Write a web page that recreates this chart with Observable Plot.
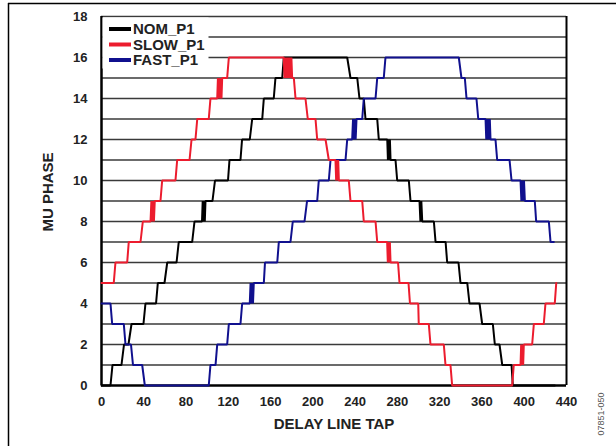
<!DOCTYPE html>
<html><head><meta charset="utf-8">
<script src="https://cdn.jsdelivr.net/npm/d3@7"></script>
<script src="https://cdn.jsdelivr.net/npm/@observablehq/plot@0.6"></script>
<style>body{margin:0;background:#fff;} svg{display:block;}</style>
</head><body><div id="chart"></div>
<script>
// Tick labels
const xTicks = [0, 40, 80, 120, 160, 200, 240, 280, 320, 360, 400, 440];
const yTicks = [0, 2, 4, 6, 8, 10, 12, 14, 16, 18];
const gridLevels = [1, 2, 3, 4, 5, 6, 7, 8, 9, 10, 11, 12, 13, 14, 15, 16, 17, 18];

// Series names
const seriesNames = ["NOM_P1", "SLOW_P1", "FAST_P1"];
const seriesColors = ["#000000", "#ec1c2e", "#10108e"];

// NOM_P1: phase level, tap where level starts, tap where level ends
const nomLevel = [0,1,2,3,4,5,6,7,8,9,10,11,12,13,14,15,16,15,14,13,12,11,10,9,8,7,6,5,4,3,2,1,0];
const nomFrom  = [0,10.4,21.3,28.4,41.6,53.3,62.2,73.1,88.0,98.4,107.4,121.1,133.0,142.6,153.6,164.6,172.5,235.6,244.1,249.8,262.4,273.5,279.8,292.4,303.5,316.1,327.1,339.7,348.2,360.2,372.2,379.2,389.2];
const nomTo    = [8.5,18.9,25.5,39.7,51.6,59.6,71.0,85.8,95.1,105.0,119.7,131.5,140.3,152.1,163.0,171.0,232.5,242.0,248.2,260.9,270.4,278.2,290.8,300.9,314.5,325.6,337.8,346.1,357.7,370.3,376.6,388.0,428.9];
const nomChatter = [8, 20, 23]; // transitions (after level index) that toggle back and forth

// SLOW_P1
const slowLevel = [5,6,7,8,9,10,11,12,13,14,15,16,15,14,13,12,11,10,9,8,7,6,5,4,3,2,1,0,1,2,3,4,5];
const slowFrom  = [0,13.2,25.8,39.1,50.4,57.4,71.6,85.2,90.6,103.1,114.2,120.5,180.4,183.6,195.2,204.1,215.1,224.6,235.6,248.2,260.9,273.5,282.0,291.9,300.2,311.3,325.5,331.8,390.1,399.6,409.1,420.1,430.3];
const slowTo    = [11.6,24.3,36.9,46.4,55.8,70.0,83.3,88.9,101.5,109.5,118.9,172.5,182.0,193.0,202.5,212.0,221.4,234.0,246.7,259.3,270.3,280.6,290.5,299.7,309.7,323.9,330.2,388.6,396.5,407.5,418.5,428.9,430.3];
const slowChatter = [3, 9, 11, 16, 20, 28];

// FAST_P1
const fastLevel = [4,3,2,1,0,1,2,3,4,5,6,7,8,9,10,11,12,13,14,15,16,15,14,13,12,11,10,9,8,7];
const fastFrom  = [0,10.1,22.7,29.8,41.0,103.1,109.5,120.5,133.1,144.1,154.7,167.8,181.0,194.5,205.6,216.7,232.5,241.3,248.2,260.9,268.7,340.6,345.4,356.5,368.1,374.4,388.0,400.6,411.3,424.9];
const fastTo    = [8.5,21.1,27.9,38.5,101.5,107.9,118.9,131.5,140.3,153.6,166.3,178.8,192.1,204.1,215.1,230.9,237.2,246.7,259.3,267.1,338.1,343.8,354.8,363.4,372.8,386.1,396.5,410.0,423.3,428.0];
const fastChatter = [8, 16, 23, 26];

function build(name, levels, from, to, chatter) {
  const pts = [];
  levels.forEach((lv, i) => {
    pts.push({series: name, tap: from[i], phase: lv});
    if (to[i] !== from[i]) pts.push({series: name, tap: to[i], phase: lv});
    if (i < levels.length - 1 && chatter.includes(i)) {
      const a = lv, b = levels[i + 1], t0 = to[i], t1 = from[i + 1];
      let n = Math.max(3, Math.round((t1 - t0) / 0.8));
      if (n % 2 === 0) n++;
      for (let k = 1; k < n; k++) pts.push({series: name, tap: t0 + (t1 - t0) * k / n, phase: k % 2 ? b : a});
    }
  });
  return pts;
}

const nom = build(seriesNames[0], nomLevel, nomFrom, nomTo, nomChatter);
const slow = build(seriesNames[1], slowLevel, slowFrom, slowTo, slowChatter);
const fast = build(seriesNames[2], fastLevel, fastFrom, fastTo, fastChatter);

const font = "'Liberation Sans', Arial, Helvetica, sans-serif";

const svg = Plot.plot({
  width: 616,
  height: 446,
  marginLeft: 101,
  marginRight: 50,
  marginTop: 16,
  marginBottom: 61,
  style: {fontFamily: font, background: "#fff", color: "#000"},
  x: {domain: [0, 440]},
  y: {domain: [0, 18]},
  marks: [
    Plot.ruleY(gridLevels, {stroke: "#3a3a3a", strokeWidth: 1.3}),
    Plot.ruleX([0], {stroke: "#000", strokeWidth: 2.5}),
    Plot.ruleX([440], {stroke: "#000", strokeWidth: 2}),
    Plot.ruleY([0], {stroke: "#000", strokeWidth: 2.5}),
    Plot.axisX({ticks: xTicks, tickSize: 0, tickPadding: 11, fontSize: 13, fontWeight: "bold", label: null, fill: "#222"}),
    Plot.axisY({ticks: yTicks, tickSize: 0, tickPadding: 14, fontSize: 13, fontWeight: "bold", label: null, fill: "#222"}),
    Plot.line(nom, {x: "tap", y: "phase", stroke: seriesColors[0], strokeWidth: 2, strokeLinejoin: "miter"}),
    Plot.line(fast, {x: "tap", y: "phase", stroke: seriesColors[2], strokeWidth: 2, strokeLinejoin: "miter"}),
    Plot.line(slow, {x: "tap", y: "phase", stroke: seriesColors[1], strokeWidth: 2, strokeLinejoin: "miter"}),
    Plot.text(["MU PHASE"], {text: d => d, frameAnchor: "left", textAnchor: "middle", dx: -53, dy: -9, rotate: -90, fontSize: 15, fontWeight: "bold", fill: "#222"}),
    Plot.text(["DELAY LINE TAP"], {text: d => d, frameAnchor: "bottom", textAnchor: "middle", dy: 43, fontSize: 15, fontWeight: "bold", fill: "#222"})
  ]
});

// Legend, figure number and image border (decoration, not data)
const s = d3.select(svg);
const lg = s.append("g").attr("text-anchor", "start");
lg.append("rect").attr("x", 102.5).attr("y", 17.5).attr("width", 106).attr("height", 51).attr("fill", "#fff");
const rowsY = [29, 44.5, 60];
seriesNames.forEach((name, i) => {
  lg.append("line").attr("x1", 109).attr("x2", 131).attr("y1", rowsY[i]).attr("y2", rowsY[i])
    .attr("stroke", seriesColors[i]).attr("stroke-width", 4);
  lg.append("text").attr("x", 133).attr("y", rowsY[i]).attr("dy", "0.36em").attr("text-anchor", "start")
    .attr("font-size", 15).attr("font-weight", "bold").attr("fill", "#222").attr("font-family", font).text(name);
});
s.append("text").attr("transform", "translate(604,414) rotate(-90)").attr("text-anchor", "middle")
  .attr("font-size", 9).attr("fill", "#555").attr("font-family", font).text("07851-050");
s.append("line").attr("x1", 8).attr("x2", 616).attr("y1", 3.5).attr("y2", 3.5).attr("stroke", "#000").attr("stroke-width", 1.5);
s.append("line").attr("x1", 8.5).attr("x2", 8.5).attr("y1", 3).attr("y2", 446).attr("stroke", "#000").attr("stroke-width", 1.5);

document.getElementById("chart").appendChild(svg);
</script>
</body></html>
